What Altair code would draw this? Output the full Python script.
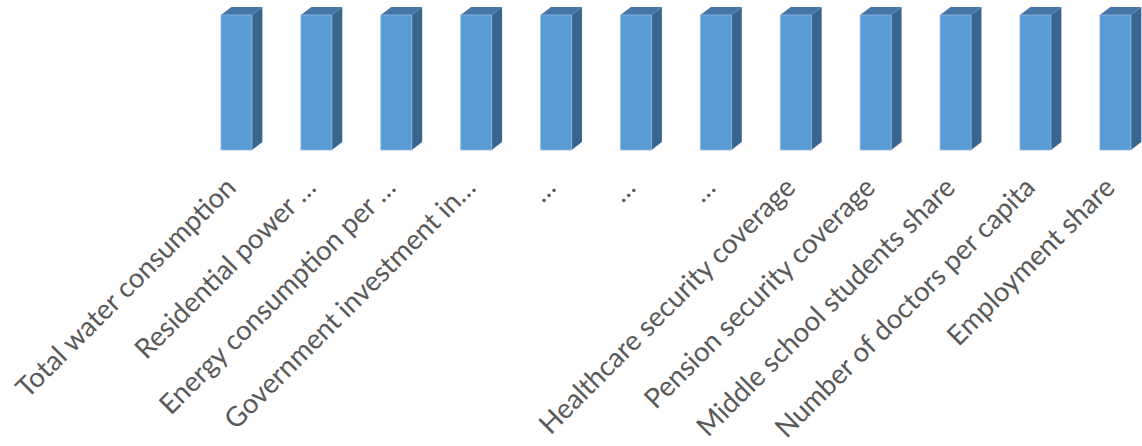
import altair as alt
import pandas as pd

categories = [
    "Total water consumption",
    "Residential power …",
    "Energy consumption per …",
    "Government investment in…",
    "…",
    "…",
    "…",
    "Healthcare security coverage",
    "Pension security coverage",
    "Middle school students share",
    "Number of doctors per capita",
    "Employment share",
]
values = [1, 1, 1, 1, 1, 1, 1, 1, 1, 1, 1, 1]

# geometry of the 3D look (in data units)
HALF = 0.194   # half width of front face (category step = 1)
DX = 0.13      # depth, horizontal
DY = 0.06      # depth, vertical

front_rows, side_rows, top_rows = [], [], []
for i, (c, v) in enumerate(zip(categories, values)):
    front_rows.append({"i": i, "x": i - HALF, "x2": i + HALF, "y": v, "y2": 0})
    side_rows.append({"bar": i, "x": i + HALF, "y": v, "y2": 0})
    side_rows.append({"bar": i, "x": i + HALF + DX, "y": v + DY, "y2": DY})
    top_rows.append({"bar": i, "x": i - HALF, "y": v, "y2": v})
    top_rows.append({"bar": i, "x": i - HALF + DX, "y": v + DY, "y2": v})
    top_rows.append({"bar": i, "x": i + HALF, "y": v + DY, "y2": v})
    top_rows.append({"bar": i, "x": i + HALF + DX, "y": v + DY, "y2": v + DY})

front = pd.DataFrame(front_rows)
side = pd.DataFrame(side_rows)
top = pd.DataFrame(top_rows)

xscale = alt.Scale(domain=[-236.5 / 79.9, (1142 - 236.5) / 79.9], nice=False, zero=False)
yscale = alt.Scale(domain=[0, 150 / 135], nice=False, zero=False)

labels_js = "[" + ",".join("'" + c + "'" for c in categories) + "]"


def x_axis():
    return alt.Axis(
        values=list(range(len(categories))),
        labelExpr=labels_js + "[datum.value]",
        labelAngle=-45,
        labelAlign="right",
        labelBaseline="middle",
        labelFont="Lato",
        labelFontSize=27.5,
        labelColor="#595959",
        labelPadding=33,
        labelOffset=-5,
        labelLimit=1000,
        labelOverlap=False,
        ticks=False,
        domain=False,
        grid=False,
        title=None,
    )


front_layer = alt.Chart(front).mark_rect(
    color="#5B9BD5", stroke="#8DB8E2", strokeWidth=0.8
).encode(
    x=alt.X("x:Q", scale=xscale, axis=x_axis()),
    x2="x2:Q",
    y=alt.Y("y:Q", scale=yscale, axis=None),
    y2="y2:Q",
)

side_layer = alt.Chart(side).mark_area(color="#386690").encode(
    x=alt.X("x:Q", scale=xscale, axis=x_axis()),
    y=alt.Y("y:Q", scale=yscale, axis=None),
    y2="y2:Q",
    detail="bar:N",
)

top_layer = alt.Chart(top).mark_area(color="#4676A6").encode(
    x=alt.X("x:Q", scale=xscale, axis=x_axis()),
    y=alt.Y("y:Q", scale=yscale, axis=None),
    y2="y2:Q",
    detail="bar:N",
)

chart = alt.layer(side_layer, top_layer, front_layer).properties(
    width=1142,
    height=150,
    padding={"left": 0, "top": 0, "right": 0, "bottom": 296},
    autosize=alt.AutoSizeParams(type="none"),
    background="white",
).configure_view(stroke=None)

chart.save("out.html", embed_options={"renderer": "svg", "actions": False})
